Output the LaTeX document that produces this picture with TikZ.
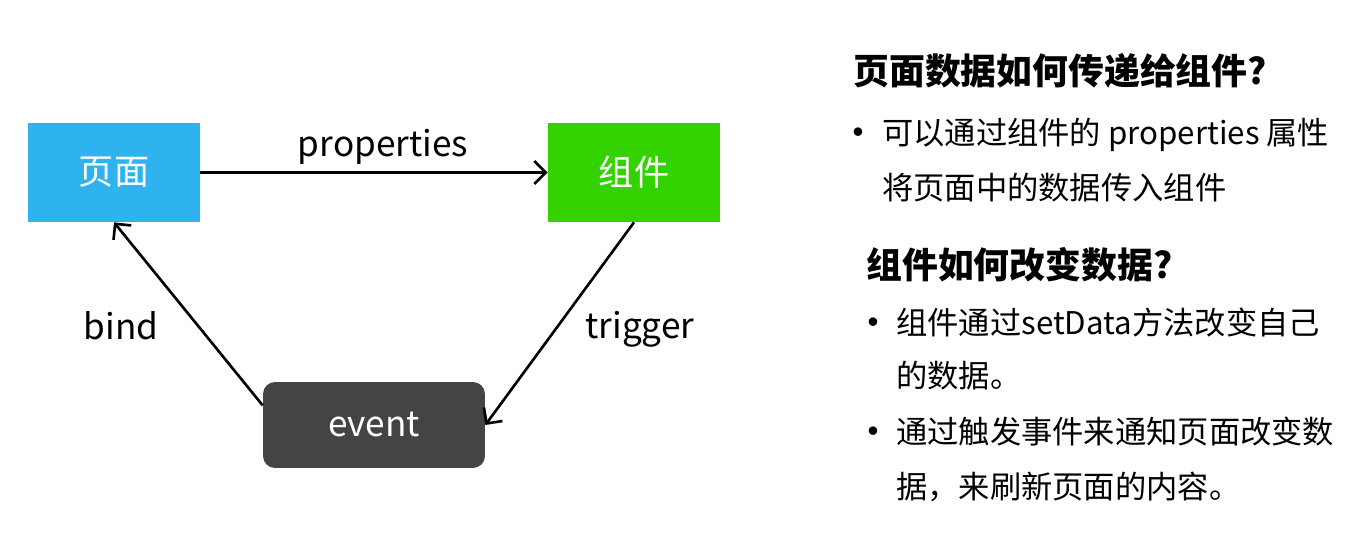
\documentclass[tikz,border=0pt]{standalone}
\usepackage{fontspec}
\setmainfont{Noto Sans CJK SC}
\newfontfamily\bulletfont{Liberation Sans}
\usetikzlibrary{arrows.meta}
\definecolor{pageblue}{HTML}{2FB3EE}
\definecolor{compgreen}{HTML}{33D200}
\definecolor{eventgray}{HTML}{444346}
\tikzset{
  >={Straight Barb[length=6.5pt,width=13pt,line width=1.5pt]},
  conn/.style={line width=1.5pt,->},
  box/.style={minimum width=3.44cm,minimum height=1.98cm,inner sep=0pt,text=white},
}
\tikzstyle{every node}=[font=\fontsize{20}{24}\selectfont]
\tikzstyle{line}=[anchor=base west,inner sep=0pt,font=\fontsize{17.8}{20}\selectfont]
\tikzstyle{title}=[anchor=base west,inner sep=0pt,font=\fontsize{20.4}{24}\selectfont\bfseries]
\tikzstyle{dot}=[anchor=base,inner sep=0pt,font=\fontsize{17.8}{20}\selectfont\bulletfont]

\begin{document}
\begin{tikzpicture}[x=0.02cm,y=-0.02cm]
    \useasboundingbox (0,0) rectangle (1367,536);
    % diagram
    \node[box,fill=pageblue] (page) at (114,172.5) {页面};
    \node[box,fill=compgreen] (comp) at (634,172.5) {组件};
    \node[box,fill=eventgray,minimum width=4.44cm,minimum height=1.72cm,rounded corners=0.24cm] (event) at (374,425) {event};
    \draw[conn] (page) -- (comp);
    \draw[conn] (comp.south) -- (event.east);
    \draw[conn] (event.170) -- (page.south);
    \node (lprop) at (383,147) {properties};
    \node (lbind) at (121,326) {bind};
    \node (ltrig) at (640,329) {trigger};
    % text on the right
    \node[title] (t1) at (853,85) {页面数据如何传递给组件?};
    \node[dot] (d1) at (858,143) {•};
    \node[line] (l1) at (882,145) {可以通过组件的 properties 属性};
    \node[line] (l2) at (882,200) {将页面中的数据传入组件};
    \node[title] (t2) at (866,279) {组件如何改变数据?};
    \node[dot] (d2) at (873,333) {•};
    \node[line] (l3) at (896,335) {组件通过setData方法改变自己};
    \node[line] (l4) at (896,388) {的数据。};
    \node[dot] (d3) at (873,442) {•};
    \node[line] (l5) at (896,444) {通过触发事件来通知页面改变数};
    \node[line] (l6) at (896,499) {据，来刷新页面的内容。};
\end{tikzpicture}
\end{document}
